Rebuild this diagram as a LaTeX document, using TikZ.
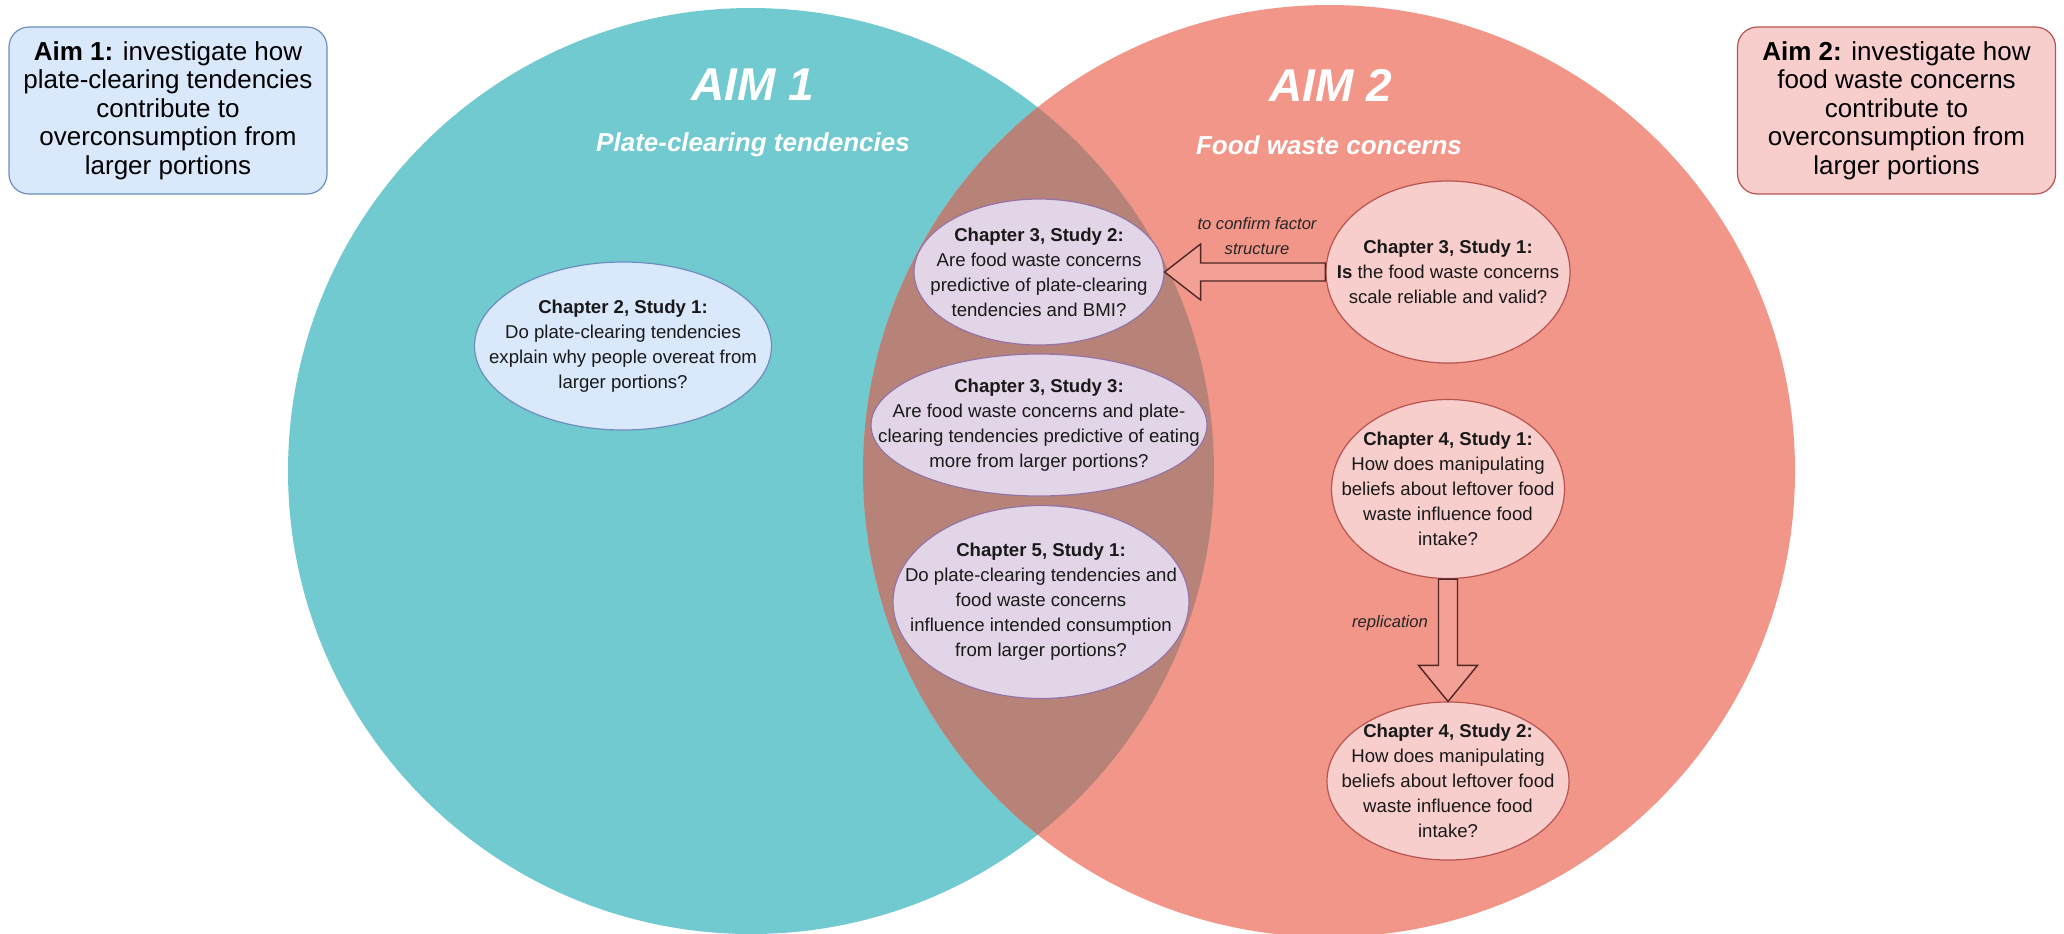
\documentclass[tikz,border=0pt]{standalone}
\usepackage{fontspec}
\setmainfont{Liberation Sans}
\usetikzlibrary{shapes.geometric,calc}

\definecolor{aimteal}{HTML}{70CAD0}
\definecolor{aimsalmon}{HTML}{F19689}
\definecolor{aimlens}{HTML}{B78379}
\definecolor{bluefill}{HTML}{DAE8FC}
\definecolor{blueline}{HTML}{6C8EBF}
\definecolor{redfill}{HTML}{F8CECC}
\definecolor{redline}{HTML}{B85450}
\definecolor{purplefill}{HTML}{E1D5E7}
\definecolor{purpleline}{HTML}{9673A6}
\definecolor{arrowfill}{HTML}{F3A097}
\definecolor{arrowline}{HTML}{4E2722}

\tikzset{
	aimbox/.style={draw, line width=0.6pt, rounded corners=10pt, align=center,
		minimum width=159pt, minimum height=83.5pt, inner sep=0pt,
		font=\fontsize{13}{14.2}\selectfont},
	aimtitle/.style={text=white, font=\fontsize{23}{26}\selectfont\bfseries\itshape},
	aimsub/.style={text=white, font=\fontsize{13}{15}\selectfont\bfseries\itshape},
	study/.style 2 args={ellipse, draw, line width=0.6pt, inner sep=0pt,
		minimum width=#1, minimum height=#2},
	qtext/.style={align=center, text=black!90, font=\fontsize{9.3}{12.5}\selectfont},
	blueq/.style={fill=bluefill, draw=blueline},
	purpleq/.style={fill=purplefill, draw=purpleline},
	redq/.style={fill=redfill, draw=redline},
	bigarrow/.style={fill=arrowfill, draw=arrowline, line width=0.7pt, line join=miter},
	note/.style={align=center, text=black!85, font=\fontsize{8.3}{12.5}\selectfont\itshape},
}

\begin{document}
\begin{tikzpicture}[x=0.5pt, y=-0.5pt]
	\useasboundingbox (0,0) rectangle (2064,933);
	\fill[white] (0,0) rectangle (2064,933);

	% the two aims and their overlap
	\fill[aimteal] (751,471) circle[radius=231.5pt];
	\fill[aimsalmon] (1329,471) circle[radius=233pt];
	\begin{scope}
		\clip (751,471) circle[radius=231.5pt];
		\fill[aimlens] (1329,471) circle[radius=233pt];
	\end{scope}

	\node[aimtitle] (aim1) at (753,85) {AIM 1};
	\node[aimsub] (plate) at (753,145) {Plate-clearing tendencies};
	\node[aimtitle] (aim2) at (1331,85) {AIM 2};
	\node[aimsub] (waste) at (1329,145) {Food waste concerns};

	\node[aimbox, fill=bluefill, draw=blueline] (box1) at (168,110.5)
		{\textbf{Aim 1:} investigate how\\plate-clearing tendencies\\contribute to\\overconsumption from\\larger portions};
	\node[aimbox, fill=redfill, draw=redline] (box2) at (1896.5,110.5)
		{\textbf{Aim 2:} investigate how\\food waste concerns\\contribute to\\overconsumption from\\larger portions};

	% studies
	\node[study={148.5pt}{84pt}, blueq, label={[qtext]center:{\textbf{Chapter 2, Study 1:}\\Do plate-clearing tendencies\\explain why people overeat from\\larger portions?}}] (s21) at (623,346) {};

	\node[study={125pt}{73pt}, purpleq, label={[qtext]center:{\textbf{Chapter 3, Study 2:}\\Are food waste concerns\\predictive of plate-clearing\\tendencies and BMI?}}] (s32) at (1039,272) {};
	\node[study={168pt}{71pt}, purpleq, label={[qtext]center:{\textbf{Chapter 3, Study 3:}\\Are food waste concerns and plate-\\clearing tendencies predictive of eating\\more from larger portions?}}] (s33) at (1039,425) {};
	\node[study={148pt}{96.5pt}, purpleq, label={[qtext]center:{\textbf{Chapter 5, Study 1:}\\Do plate-clearing tendencies and\\food waste concerns\\influence intended consumption\\from larger portions?}}] (s51) at (1041,602) {};

	\node[study={122pt}{91pt}, redq, label={[qtext]center:{\textbf{Chapter 3, Study 1:}\\\textbf{Is} the food waste concerns\\scale reliable and valid?}}] (s31) at (1448,272) {};
	\node[study={116.5pt}{89.5pt}, redq, label={[qtext]center:{\textbf{Chapter 4, Study 1:}\\How does manipulating\\beliefs about leftover food\\waste influence food\\intake?}}] (s41) at (1448,489) {};
	\node[study={121pt}{79pt}, redq, label={[qtext]center:{\textbf{Chapter 4, Study 2:}\\How does manipulating\\beliefs about leftover food\\waste influence food\\intake?}}] (s42) at (1448,781) {};

	% links between studies
	\draw[bigarrow] ($(s31.west)+(0,-9)$) -- ($(s32.east)+(36,-9)$) -- ($(s32.east)+(36,-28)$)
		-- (s32.east) -- ($(s32.east)+(36,28)$) -- ($(s32.east)+(36,9)$) -- ($(s31.west)+(0,9)$) -- cycle;
	\draw[bigarrow] ($(s41.south)+(-9.5,0)$) -- ($(s42.north)+(-9.5,-36)$) -- ($(s42.north)+(-29.5,-36)$)
		-- (s42.north) -- ($(s42.north)+(29.5,-36)$) -- ($(s42.north)+(9.5,-36)$) -- ($(s41.south)+(9.5,0)$) -- cycle;

	\node[note] (confirm) at (1257,236) {to confirm factor\\structure};
	\node[note] (replic) at (1390,623) {replication};
\end{tikzpicture}
\end{document}
